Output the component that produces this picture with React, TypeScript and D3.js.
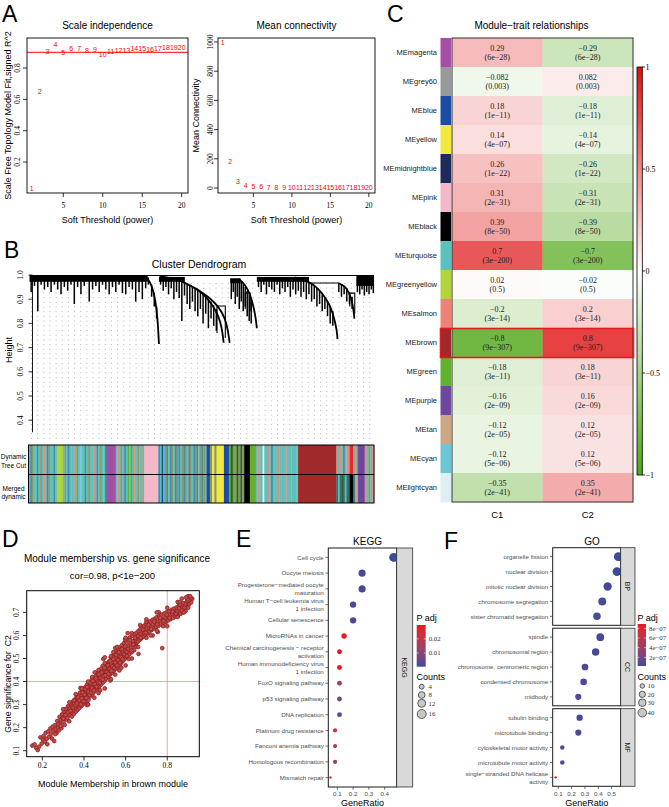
import React from "react";
import * as d3 from "d3";

const SANS = "'Liberation Sans', Arial, Helvetica, sans-serif";
const SERIF = "'Liberation Serif', 'Times New Roman', Times, serif";
const MINUS = "\u2212";
const mfmt = (s: string | number) => String(s).replace(/-/g, MINUS);

/* ================= Panel A data ================= */
const softPowers = [1, 2, 3, 4, 5, 6, 7, 8, 9, 10, 11, 12, 13, 14, 15, 16, 17, 18, 19, 20];
const scaleFreeFit = [0.034, 0.649, 0.904, 0.951, 0.898, 0.923, 0.926, 0.913, 0.917, 0.888, 0.902, 0.911, 0.911, 0.922, 0.922, 0.916, 0.924, 0.932, 0.932, 0.932];
const meanConnectivity = [993, 178, 41, 20, 9, 7, 5, 4, 3.5, 3, 2.6, 2.3, 2, 1.8, 1.6, 1.5, 1.4, 1.3, 1.2, 1.1];
const powerTicks = [5, 10, 15, 20];
const fitTicks = [0.2, 0.4, 0.6, 0.8];
const connTicks = [0, 200, 400, 600, 800, 1000];
const fitCutoff = 0.9;

/* ================= Panel B data ================= */
const heightTicks = [0.4, 0.5, 0.6, 0.7, 0.8, 0.9, 1.0];
const dendroBands: [number, number, number, number][] = [
  [0, 356, 0.996, 0.972],
  [390, 468, 0.992, 0.972],
  [605, 636, 0.986, 0.966],
  [685, 842, 0.992, 0.972],
  [985, 1038, 0.996, 0.955],
];
const dendroDrips: [number, number, number][] = [
  [5, 0.99, 0.93], [15, 0.99, 0.955], [25, 0.99, 0.85], [35, 0.99, 0.96], [45, 0.99, 0.94], [55, 0.99, 0.95], [65, 0.99, 0.93],
  [75, 0.99, 0.96], [85, 0.99, 0.94], [95, 0.99, 0.92], [105, 0.99, 0.95], [115, 0.99, 0.935], [125, 0.99, 0.96], [135, 0.99, 0.88],
  [145, 0.99, 0.95], [155, 0.99, 0.92], [165, 0.99, 0.955], [180, 0.99, 0.89], [190, 0.99, 0.94], [200, 0.99, 0.955], [210, 0.99, 0.93],
  [220, 0.99, 0.96], [230, 0.99, 0.94], [240, 0.99, 0.92], [250, 0.99, 0.95], [260, 0.99, 0.93], [270, 0.99, 0.96], [280, 0.99, 0.925],
  [290, 0.99, 0.92], [300, 0.99, 0.95], [310, 0.99, 0.94], [320, 0.99, 0.89], [330, 0.99, 0.93], [340, 0.99, 0.90], [350, 0.99, 0.945],
  [358, 0.99, 0.96], [368, 0.96, 0.91], [376, 0.925, 0.87], [383, 0.87, 0.82],
  [395, 0.99, 0.96], [403, 0.99, 0.935], [411, 0.99, 0.95], [419, 0.985, 0.92], [427, 0.985, 0.945], [435, 0.98, 0.90], [443, 0.98, 0.93],
  [451, 0.975, 0.905], [459, 0.97, 0.81], [467, 0.965, 0.915], [475, 0.96, 0.88], [483, 0.955, 0.86], [491, 0.95, 0.89], [499, 0.945, 0.85],
  [507, 0.94, 0.83], [515, 0.93, 0.86], [523, 0.92, 0.80], [531, 0.91, 0.84], [539, 0.90, 0.78], [547, 0.89, 0.82], [555, 0.875, 0.79], [563, 0.86, 0.77],
  [608, 0.985, 0.90], [614, 0.985, 0.93], [620, 0.985, 0.88], [626, 0.985, 0.91], [632, 0.98, 0.86], [638, 0.975, 0.89], [644, 0.965, 0.85],
  [650, 0.95, 0.87], [656, 0.935, 0.83], [662, 0.92, 0.81], [668, 0.90, 0.80],
  [690, 0.99, 0.95], [698, 0.99, 0.93], [706, 0.99, 0.96], [714, 0.99, 0.92], [722, 0.99, 0.95], [730, 0.99, 0.94], [738, 0.99, 0.93],
  [746, 0.99, 0.96], [754, 0.99, 0.92], [762, 0.99, 0.945], [770, 0.99, 0.93], [778, 0.99, 0.95], [786, 0.99, 0.91], [794, 0.99, 0.94],
  [802, 0.99, 0.92], [810, 0.99, 0.935], [818, 0.985, 0.91], [826, 0.98, 0.93], [834, 0.975, 0.90], [842, 0.97, 0.92], [850, 0.96, 0.89],
  [858, 0.955, 0.90], [866, 0.945, 0.87], [874, 0.935, 0.88], [882, 0.92, 0.85], [890, 0.905, 0.86], [898, 0.89, 0.83], [906, 0.87, 0.80], [914, 0.85, 0.79],
  [932, 0.965, 0.93], [940, 0.96, 0.91], [948, 0.955, 0.92], [956, 0.945, 0.89], [964, 0.93, 0.88], [972, 0.91, 0.86],
  [988, 0.99, 0.93], [995, 0.99, 0.92], [1002, 0.99, 0.94], [1009, 0.99, 0.915], [1016, 0.99, 0.93], [1023, 0.99, 0.92], [1030, 0.99, 0.94], [1036, 0.99, 0.925],
];
const dendroCurves: [number, number][][] = [
  [[352, 0.99], [362, 0.975], [372, 0.94], [380, 0.89], [385, 0.83], [388, 0.77], [390, 0.715]],
  [[392, 0.995], [440, 0.985], [480, 0.96], [520, 0.93], [550, 0.88], [570, 0.83], [580, 0.78], [585, 0.72]],
  [[500, 0.945], [540, 0.91], [570, 0.87], [590, 0.82], [598, 0.77], [603, 0.72]],
  [[630, 0.985], [650, 0.96], [665, 0.92], [675, 0.87], [682, 0.82], [685, 0.78]],
  [[800, 0.99], [840, 0.975], [870, 0.945], [895, 0.9], [910, 0.86], [920, 0.81], [926, 0.77], [928, 0.735]],
  [[930, 0.967], [950, 0.955], [962, 0.93], [970, 0.90], [976, 0.86], [979, 0.82]],
];
const dendroLinks: [number, number][][] = [
  [[0, 0.998], [1038, 0.998]],
  [[565, 0.76], [565, 0.872], [590, 0.872], [590, 0.74]],
  [[650, 0.86], [650, 0.925], [665, 0.925], [665, 0.85]],
  [[840, 0.99], [840, 0.967], [930, 0.967]],
  [[965, 0.87], [965, 0.925], [980, 0.925], [980, 0.84]],
];
const moduleCodeColors: Record<string, string> = {
  T: "#5CC1BB", S: "#4A8AAE", O: "#8C9A62", L: "#E58A7F", Y: "#B2D33B", M: "#A64DA5", P: "#F5B8C9",
  U: "#1D4CA5", W: "#F2E93F", G: "#62B22F", K: "#000000", D: "#35563A", R: "#9E2A2B", E: "#EE2424",
  V: "#6E47A0", C: "#7CCBD8", H: "#E2F3F3", N: "#2F6E6A",
};
const dynamicTreeCut: [number, number, string][] = [
  [0, 85, "TSOTTSTOTLTSOTTST"], [85, 103, "Y"], [103, 235, "TOTSTTLTOTCTTSTOTTLTSTOTTS"], [235, 262, "M"],
  [262, 348, "TLTOTSTGTGTLTOTLT"], [348, 390, "P"], [390, 535, "STUTOSTSOTSOSTOSOTSOTSOSTOSOT"], [535, 545, "U"],
  [545, 565, "OWO"], [565, 587, "W"], [587, 602, "U"], [602, 648, "GDGODGDO"], [648, 665, "K"], [665, 683, "G"],
  [683, 810, "TLTTHTTLTSTTTLTTTTLTTTTTT"], [810, 925, "R"], [925, 965, "LTLTSLTL"], [965, 975, "E"], [975, 990, "TLO"],
  [990, 1010, "V"], [1010, 1038, "LTOTL"],
];
const mergedDynamic: [number, number, string][] = [
  [0, 85, "TSOTTSTOTLTSOTTST"], [85, 103, "Y"], [103, 235, "TOTSTTLTOTCTTSTOTTLTSTOTTS"], [235, 262, "M"],
  [262, 348, "TLTOTSTGTGTLTOTLT"], [348, 390, "P"], [390, 535, "STUTOSTSOTSOSTOSOTSOTSOSTOSOT"], [535, 545, "U"],
  [545, 565, "OWO"], [565, 587, "W"], [587, 602, "U"], [602, 648, "GDGODGDO"], [648, 665, "K"], [665, 683, "G"],
  [683, 810, "TLTTHTTLTSTTTLTTTTLTTTTTT"], [810, 925, "R"], [925, 965, "NTNDNTNN"], [965, 975, "K"], [975, 990, "NTL"],
  [990, 1010, "V"], [1010, 1038, "LTOTL"],
];

/* ================= Panel C data ================= */
const modules = ["MEmagenta", "MEgrey60", "MEblue", "MEyellow", "MEmidnightblue", "MEpink", "MEblack", "MEturquoise",
  "MEgreenyellow", "MEsalmon", "MEbrown", "MEgreen", "MEpurple", "MEtan", "MEcyan", "MElightcyan"];
const moduleColors = ["#A64DA5", "#999999", "#1D4CA5", "#F2E93F", "#1E2A5A", "#F5B8C9", "#000000", "#5CC1BB",
  "#B2D33B", "#EF8277", "#9E2A2B", "#62B22F", "#6E47A0", "#CBA783", "#6CC6D3", "#DDEFF2"];
const traits = ["C1", "C2"];
const corC1 = [0.29, -0.082, 0.18, 0.14, 0.26, 0.31, 0.39, 0.7, 0.02, -0.2, -0.8, -0.18, -0.16, -0.12, -0.12, -0.35];
const corC2 = [-0.29, 0.082, -0.18, -0.14, -0.26, -0.31, -0.39, -0.7, -0.02, 0.2, 0.8, 0.18, 0.16, 0.12, 0.12, 0.35];
const corP = ["6e-28", "0.003", "1e-11", "4e-07", "1e-22", "2e-31", "8e-50", "3e-200", "0.5", "3e-14", "9e-307", "3e-11", "2e-09", "2e-05", "5e-06", "2e-41"];
const corTicks = [1, 0.5, 0, -0.5, -1];
const highlightModule = "MEbrown";

/* ================= Panel D data ================= */
const mmTicks = [0.2, 0.4, 0.6, 0.8];
const gsTicks = [0.1, 0.2, 0.3, 0.4, 0.5, 0.6, 0.7];
const mmGsPoints: [number, number][] = [
  [0.152, 0.122], [0.163, 0.127], [0.171, 0.112], [0.178, 0.103], [0.185, 0.118], [0.191, 0.158], [0.197, 0.131], [0.203, 0.148],
  [0.206, 0.163], [0.212, 0.139], [0.216, 0.177], [0.221, 0.152], [0.224, 0.128], [0.229, 0.184], [0.233, 0.161], [0.238, 0.196],
  [0.241, 0.172], [0.246, 0.153], [0.249, 0.204], [0.253, 0.187], [0.257, 0.142], [0.261, 0.211], [0.264, 0.193], [0.268, 0.176],
  [0.272, 0.229], [0.275, 0.205], [0.279, 0.188], [0.283, 0.247], [0.286, 0.219], [0.289, 0.233], [0.292, 0.198], [0.295, 0.258],
  [0.298, 0.241], [0.301, 0.226], [0.304, 0.268], [0.307, 0.212], [0.309, 0.249], [0.313, 0.281], [0.316, 0.236], [0.318, 0.262],
  [0.321, 0.244], [0.324, 0.293], [0.326, 0.271], [0.329, 0.228], [0.331, 0.257],
  [0.334, 0.284], [0.337, 0.301], [0.339, 0.266], [0.342, 0.248], [0.344, 0.292], [0.346, 0.313], [0.349, 0.277], [0.351, 0.259],
  [0.353, 0.303], [0.356, 0.322], [0.358, 0.287], [0.361, 0.269], [0.363, 0.311], [0.365, 0.334], [0.368, 0.296], [0.37, 0.278],
  [0.372, 0.319], [0.374, 0.341], [0.377, 0.305], [0.379, 0.286], [0.381, 0.352], [0.383, 0.327], [0.386, 0.312], [0.388, 0.294],
  [0.39, 0.338], [0.392, 0.361], [0.395, 0.321], [0.397, 0.303], [0.399, 0.346], [0.401, 0.372], [0.404, 0.329], [0.406, 0.311],
  [0.408, 0.355], [0.41, 0.338], [0.413, 0.384], [0.415, 0.298], [0.417, 0.363], [0.419, 0.347], [0.422, 0.321], [0.424, 0.372],
  [0.426, 0.395], [0.428, 0.356], [0.431, 0.336], [0.433, 0.381], [0.435, 0.364], [0.437, 0.407], [0.44, 0.344], [0.442, 0.389],
  [0.444, 0.372], [0.446, 0.353], [0.449, 0.416], [0.451, 0.398], [0.453, 0.381], [0.455, 0.362], [0.458, 0.425], [0.46, 0.407],
  [0.462, 0.389], [0.464, 0.371], [0.466, 0.436], [0.469, 0.415], [0.471, 0.397], [0.473, 0.379], [0.475, 0.447], [0.477, 0.424],
  [0.48, 0.405], [0.482, 0.387], [0.484, 0.456], [0.486, 0.433], [0.488, 0.414], [0.491, 0.396], [0.493, 0.498], [0.495, 0.442],
  [0.497, 0.423], [0.5, 0.404], [0.502, 0.468], [0.504, 0.451], [0.506, 0.432], [0.508, 0.413], [0.511, 0.478], [0.513, 0.459],
  [0.515, 0.441], [0.517, 0.421], [0.52, 0.487], [0.522, 0.468], [0.524, 0.449], [0.526, 0.43], [0.529, 0.504], [0.531, 0.477],
  [0.533, 0.458], [0.535, 0.439], [0.538, 0.512], [0.54, 0.486], [0.542, 0.467], [0.544, 0.447], [0.547, 0.521], [0.549, 0.494],
  [0.551, 0.476], [0.553, 0.456], [0.556, 0.533], [0.558, 0.503], [0.56, 0.485], [0.562, 0.464], [0.565, 0.541], [0.567, 0.512],
  [0.569, 0.493], [0.571, 0.473], [0.574, 0.549], [0.576, 0.521], [0.578, 0.502], [0.58, 0.482], [0.583, 0.558], [0.585, 0.53],
  [0.587, 0.511], [0.589, 0.491], [0.592, 0.566], [0.594, 0.539], [0.596, 0.52], [0.598, 0.5], [0.601, 0.574], [0.603, 0.548],
  [0.605, 0.529], [0.607, 0.509], [0.61, 0.583], [0.612, 0.557], [0.615, 0.538], [0.618, 0.518], [0.62, 0.591], [0.623, 0.566],
  [0.626, 0.547], [0.629, 0.527], [0.632, 0.598], [0.635, 0.575], [0.638, 0.556], [0.641, 0.536], [0.644, 0.606], [0.647, 0.584], [0.65, 0.565],
  [0.383, 0.372], [0.418, 0.302], [0.452, 0.44], [0.478, 0.362], [0.49, 0.468], [0.527, 0.405], [0.541, 0.527], [0.57, 0.448],
  [0.598, 0.583], [0.616, 0.498], [0.641, 0.563], [0.662, 0.52], [0.5, 0.505], [0.55, 0.545], [0.61, 0.61], [0.56, 0.52],
  [0.653, 0.612], [0.656, 0.592], [0.659, 0.573], [0.662, 0.62], [0.665, 0.6], [0.668, 0.581], [0.671, 0.628], [0.674, 0.607],
  [0.677, 0.588], [0.68, 0.635], [0.683, 0.614], [0.686, 0.596], [0.689, 0.642], [0.692, 0.621], [0.695, 0.603], [0.698, 0.649],
  [0.701, 0.628], [0.705, 0.61], [0.708, 0.655], [0.711, 0.635], [0.715, 0.617], [0.718, 0.661], [0.722, 0.641], [0.725, 0.624],
  [0.729, 0.667], [0.732, 0.648], [0.736, 0.63], [0.74, 0.673], [0.743, 0.654], [0.747, 0.636], [0.75, 0.679], [0.754, 0.66],
  [0.758, 0.642], [0.761, 0.684], [0.765, 0.666], [0.769, 0.648], [0.772, 0.69], [0.776, 0.545], [0.779, 0.672], [0.783, 0.653],
  [0.786, 0.695], [0.79, 0.677], [0.794, 0.659], [0.797, 0.7], [0.801, 0.682], [0.805, 0.665], [0.808, 0.705], [0.812, 0.688],
  [0.816, 0.671], [0.82, 0.711], [0.824, 0.693], [0.828, 0.676], [0.832, 0.716], [0.836, 0.699], [0.84, 0.682], [0.844, 0.721],
  [0.848, 0.704], [0.852, 0.688], [0.856, 0.727], [0.86, 0.71], [0.864, 0.694], [0.868, 0.733], [0.872, 0.716], [0.876, 0.7],
  [0.88, 0.738], [0.884, 0.722], [0.888, 0.706], [0.892, 0.744], [0.896, 0.728], [0.9, 0.749], [0.905, 0.736], [0.91, 0.754],
  [0.915, 0.743], [0.92, 0.759], [0.69, 0.61], [0.73, 0.6], [0.76, 0.7], [0.7, 0.66], [0.755, 0.615], [0.78, 0.64],
  [0.262, 0.172], [0.277, 0.214], [0.288, 0.207], [0.301, 0.239], [0.312, 0.255], [0.323, 0.266], [0.336, 0.273], [0.347, 0.287],
  [0.352, 0.318], [0.359, 0.296], [0.367, 0.305], [0.371, 0.332], [0.378, 0.318], [0.385, 0.301], [0.389, 0.327], [0.394, 0.352],
  [0.398, 0.314], [0.403, 0.343], [0.407, 0.367], [0.412, 0.329], [0.416, 0.376], [0.421, 0.356], [0.425, 0.341], [0.43, 0.393],
  [0.434, 0.351], [0.439, 0.372], [0.443, 0.403], [0.448, 0.362], [0.452, 0.389], [0.457, 0.414], [0.461, 0.378], [0.467, 0.398],
  [0.472, 0.431], [0.476, 0.393], [0.481, 0.416], [0.485, 0.44], [0.49, 0.409], [0.494, 0.424], [0.499, 0.459], [0.503, 0.427],
  [0.509, 0.442], [0.514, 0.471], [0.518, 0.433], [0.523, 0.455], [0.527, 0.489], [0.532, 0.447], [0.536, 0.466], [0.541, 0.497],
  [0.545, 0.459], [0.55, 0.482], [0.554, 0.515], [0.559, 0.47], [0.563, 0.494], [0.568, 0.527], [0.573, 0.482], [0.577, 0.507],
  [0.582, 0.541], [0.586, 0.497], [0.593, 0.518], [0.599, 0.553], [0.606, 0.511], [0.613, 0.542], [0.621, 0.579], [0.628, 0.535],
  [0.636, 0.561], [0.645, 0.59], [0.652, 0.551], [0.66, 0.598], [0.672, 0.59], [0.685, 0.625], [0.697, 0.612], [0.71, 0.645],
  [0.723, 0.628], [0.738, 0.66], [0.752, 0.648], [0.767, 0.676], [0.782, 0.663], [0.797, 0.69], [0.811, 0.676], [0.826, 0.703],
  [0.842, 0.693], [0.857, 0.718], [0.871, 0.708], [0.886, 0.735], [0.9, 0.724], [0.913, 0.762], [0.897, 0.757], [0.874, 0.74], [0.862, 0.733],
  [0.42, 0.30], [0.45, 0.33], [0.47, 0.35], [0.5, 0.37], [0.53, 0.41], [0.55, 0.43], [0.58, 0.46], [0.6, 0.47], [0.63, 0.50],
  [0.66, 0.55], [0.7, 0.59], [0.72, 0.6], [0.75, 0.62], [0.8, 0.64], [0.85, 0.68], [0.88, 0.7],
  [0.3, 0.28], [0.33, 0.31], [0.36, 0.345], [0.39, 0.37], [0.42, 0.40], [0.44, 0.42], [0.47, 0.45], [0.5, 0.48], [0.53, 0.51],
  [0.56, 0.55], [0.6, 0.59], [0.63, 0.61], [0.67, 0.645], [0.7, 0.67], [0.75, 0.7], [0.8, 0.72], [0.85, 0.745], [0.9, 0.77],
  [0.87, 0.76], [0.9, 0.72], [0.89, 0.765], [0.91, 0.77], [0.86, 0.745],
];
const mmThreshold = 0.8;
const gsThreshold = 0.4;

/* ================= Panel E data ================= */
const keggTerms = [
  "Cell cycle", "Oocyte meiosis", "Progesterone\u2212mediated oocyte\nmaturation", "Human T\u2212cell leukemia virus\n1 infection",
  "Cellular senescence", "MicroRNAs in cancer", "Chemical carcinogenesis \u2212 receptor\nactivation", "Human immunodeficiency virus\n1 infection",
  "FoxO signaling pathway", "p53 signaling pathway", "DNA replication", "Platinum drug resistance", "Fanconi anemia pathway",
  "Homologous recombination", "Mismatch repair",
];
const keggGeneRatio = [0.457, 0.257, 0.257, 0.2, 0.2, 0.143, 0.114, 0.114, 0.114, 0.114, 0.114, 0.086, 0.086, 0.086, 0.057];
const keggCounts = [16, 9, 9, 7, 7, 5, 4, 4, 4, 4, 4, 3, 3, 3, 2];
const keggPadj = [0.0004, 0.0009, 0.001, 0.0016, 0.0018, 0.0285, 0.0297, 0.0294, 0.016, 0.007, 0.0035, 0.021, 0.017, 0.011, 0.023];
const keggRatioTicks = [0.1, 0.2, 0.3, 0.4];
const keggPadjTicks = [0.02, 0.01];
const keggCountTicks = [4, 8, 12, 16];

/* ================= Panel F data ================= */
const goTerms = [
  "organelle fission", "nuclear division", "mitotic nuclear division", "chromosome segregation", "sister chromatid segregation",
  "spindle", "chromosomal region", "chromosome, centromeric region", "condensed chromosome", "midbody",
  "tubulin binding", "microtubule binding", "cytoskeletal motor activity", "microtubule motor activity", "single\u2212stranded DNA helicase\nactivity",
];
const goOntology = ["BP", "BP", "BP", "BP", "BP", "CC", "CC", "CC", "CC", "CC", "MF", "MF", "MF", "MF", "MF"];
const goFacets = ["BP", "CC", "MF"];
const goGeneRatio = [0.55, 0.54, 0.47, 0.43, 0.39, 0.415, 0.38, 0.30, 0.29, 0.25, 0.26, 0.25, 0.13, 0.13, 0.08];
const goCounts = [43, 42, 37, 34, 30, 32, 29, 23, 22, 19, 20, 19, 10, 10, 6];
const goPadj = [3e-8, 2e-8, 4e-8, 5e-8, 6e-8, 4e-8, 5e-8, 6e-8, 7e-8, 8e-8, 5e-8, 6e-8, 9e-8, 9e-8, 8.9e-7];
const goRatioTicks = [0.1, 0.2, 0.3, 0.4, 0.5];
const goPadjTicks = [8e-7, 6e-7, 4e-7, 2e-7];
const goPadjLabels = ["8e-07", "6e-07", "4e-07", "2e-07"];
const goCountTicks = [10, 20, 30, 40];

const LOW_BLUE = "#3B4A9D";
const HIGH_RED = "#E8171E";

/* ================= helpers ================= */
function VText(props: { x: number; y: number; size: number; family?: string; anchor?: string; fill?: string; children: any }) {
  const { x, y, size, family = SANS, anchor = "middle", fill = "#000", children } = props;
  return (
    <text transform={`translate(${x},${y}) rotate(-90)`} textAnchor={anchor as any} fontSize={size} fontFamily={family} fill={fill}>
      {children}
    </text>
  );
}

function Letter({ x, y, t }: { x: number; y: number; t: string }) {
  return <text x={x} y={y} fontSize={23} fontFamily={SANS}>{t}</text>;
}

/* ================= Panel A ================= */
function PanelA() {
  const x1 = d3.scaleLinear().domain([0.4, 20.8]).range([27, 188]);
  const y1 = d3.scaleLinear().domain([0, 0.99]).range([193.4, 38.2]);
  const x2 = d3.scaleLinear().domain([0.4, 20.8]).range([218, 375]);
  const y2 = d3.scaleLinear().domain([-34, 1027]).range([193, 38]);
  return (
    <g>
      <Letter x={2} y={21.5} t="A" />
      <text x={107.5} y={28.5} textAnchor="middle" fontSize={10} fontFamily={SANS}>Scale independence</text>
      <line x1={27} x2={188} y1={y1(fitCutoff)} y2={y1(fitCutoff)} stroke="red" strokeWidth={1} />
      {softPowers.map((p, i) => (
        <text key={p} x={x1(p)} y={y1(scaleFreeFit[i])} dy="0.35em" textAnchor="middle" fontSize={7} fontFamily={SANS} fill="red">{p}</text>
      ))}
      <rect x={27} y={38} width={161} height={155} fill="none" stroke="#000" strokeWidth={0.9} />
      {powerTicks.map((t) => (
        <g key={t}>
          <line x1={x1(t)} x2={x1(t)} y1={193} y2={197} stroke="#000" strokeWidth={0.8} />
          <text x={x1(t)} y={208} textAnchor="middle" fontSize={7.5} fontFamily={SERIF}>{t}</text>
        </g>
      ))}
      {fitTicks.map((t) => (
        <g key={t}>
          <line x1={27} x2={23} y1={y1(t)} y2={y1(t)} stroke="#000" strokeWidth={0.8} />
          <VText x={20} y={y1(t)} size={7.5} family={SERIF}>{t}</VText>
        </g>
      ))}
      <text x={107.5} y={223} textAnchor="middle" fontSize={9} fontFamily={SANS}>Soft Threshold (power)</text>
      <VText x={10.5} y={115.5} size={9}>Scale Free Topology Model Fit,signed R^2</VText>

      <text x={296.5} y={28.5} textAnchor="middle" fontSize={10} fontFamily={SANS}>Mean connectivity</text>
      {softPowers.map((p, i) => (
        <text key={p} x={x2(p)} y={y2(meanConnectivity[i])} dy="0.35em" textAnchor="middle" fontSize={7} fontFamily={SANS} fill="red">{p}</text>
      ))}
      <rect x={218} y={38} width={157} height={155} fill="none" stroke="#000" strokeWidth={0.9} />
      {powerTicks.map((t) => (
        <g key={t}>
          <line x1={x2(t)} x2={x2(t)} y1={193} y2={197} stroke="#000" strokeWidth={0.8} />
          <text x={x2(t)} y={208} textAnchor="middle" fontSize={7.5} fontFamily={SERIF}>{t}</text>
        </g>
      ))}
      {connTicks.map((t) => (
        <g key={t}>
          <line x1={218} x2={214} y1={y2(t)} y2={y2(t)} stroke="#000" strokeWidth={0.8} />
          <VText x={212.5} y={y2(t)} size={7.5} family={SERIF}>{t}</VText>
        </g>
      ))}
      <text x={296.5} y={223} textAnchor="middle" fontSize={9} fontFamily={SANS}>Soft Threshold (power)</text>
      <VText x={198.5} y={115.5} size={9}>Mean Connectivity</VText>
    </g>
  );
}

/* ================= Panel B ================= */
function ColorRow({ segs, y0, y1, xs }: { segs: [number, number, string][]; y0: number; y1: number; xs: d3.ScaleLinear<number, number> }) {
  const rects: any[] = [];
  segs.forEach(([u0, u1, pat], si) => {
    const w = (u1 - u0) / pat.length;
    for (let i = 0; i < pat.length; i++) {
      const a = xs(u0 + i * w);
      const b = xs(u0 + (i + 1) * w);
      rects.push(<rect key={si + "-" + i} x={a} y={y0} width={b - a + 0.3} height={y1 - y0} fill={moduleCodeColors[pat[i]]} />);
    }
  });
  return <g>{rects}</g>;
}

function PanelB() {
  const xs = d3.scaleLinear().domain([0, 1038]).range([29.5, 374]);
  const barX = d3.scaleLinear().domain([0, 1038]).range([28.5, 374]);
  const ys = d3.scaleLinear().domain([0.35, 1.0]).range([432.3, 275]);
  const curve = d3.line<[number, number]>().x((d) => xs(d[0])).y((d) => ys(d[1])).curve(d3.curveBasis);
  const poly = d3.line<[number, number]>().x((d) => xs(d[0])).y((d) => ys(d[1]));
  const guides = d3.range(31.5, 373, 6.15);
  return (
    <g>
      <Letter x={4} y={258} t="B" />
      <text x={199} y={268} textAnchor="middle" fontSize={10.5} fontFamily={SANS}>Cluster Dendrogram</text>
      {guides.map((gx, i) => (
        <line key={i} x1={gx} x2={gx} y1={283} y2={443} stroke="#9a9a9a" strokeWidth={0.8} strokeDasharray="0.9 3.8" />
      ))}
      {dendroBands.map(([u0, u1, t, b], i) => (
        <rect key={i} x={xs(u0)} y={ys(t)} width={xs(u1) - xs(u0)} height={ys(b) - ys(t)} fill="#000" />
      ))}
      {dendroDrips.map(([u, t, b], i) => (
        <line key={i} x1={xs(u)} x2={xs(u)} y1={ys(t)} y2={ys(b)} stroke="#000" strokeWidth={1.5} />
      ))}
      {dendroCurves.map((c, i) => (
        <path key={i} d={curve(c) || ""} fill="none" stroke="#000" strokeWidth={1.8} />
      ))}
      {dendroLinks.map((c, i) => (
        <path key={i} d={poly(c) || ""} fill="none" stroke="#000" strokeWidth={1.1} />
      ))}
      <line x1={32.5} x2={32.5} y1={ys(1.0)} y2={432.3} stroke="#000" strokeWidth={0.9} />
      {heightTicks.map((t) => (
        <g key={t}>
          <line x1={32.5} x2={28.5} y1={ys(t)} y2={ys(t)} stroke="#000" strokeWidth={0.8} />
          <VText x={23} y={ys(t)} size={7.5} family={SERIF}>{t.toFixed(1)}</VText>
        </g>
      ))}
      <VText x={12} y={350} size={9}>Height</VText>

      <ColorRow segs={dynamicTreeCut} y0={445} y1={474.5} xs={barX} />
      <ColorRow segs={mergedDynamic} y0={474.5} y1={503} xs={barX} />
      <rect x={28.5} y={445} width={345.5} height={58} fill="none" stroke="#000" strokeWidth={1} />
      <line x1={28.5} x2={374} y1={474.5} y2={474.5} stroke="#000" strokeWidth={1.2} />
      <g fontSize={6.5} fontFamily={SANS} textAnchor="middle">
        <text x={13.5} y={459}>Dynamic</text>
        <text x={13.5} y={467.5}>Tree Cut</text>
        <text x={13.5} y={490.5}>Merged</text>
        <text x={13.5} y={499}>dynamic</text>
      </g>
    </g>
  );
}

/* ================= Panel C ================= */
function PanelC() {
  const top = 38;
  const band = d3.scaleBand<string>().domain(modules).range([top, 502]);
  const colX = d3.scaleBand<string>().domain(traits).range([452, 633]);
  const color = d3.scaleLinear<string>().domain([-1, 0, 1]).range(["#4EA614", "#FFFFFF", "#E01010"]);
  const cb = d3.scaleLinear().domain([-1, 1]).range([475, 67]);
  const rowH = band.bandwidth();
  const hi = band(highlightModule) as number;
  return (
    <g>
      <Letter x={387} y={21.5} t="C" />
      <defs>
        <linearGradient id="corGrad" x1="0" y1="1" x2="0" y2="0">
          <stop offset="0" stopColor={color(-1)} />
          <stop offset="0.5" stopColor={color(0)} />
          <stop offset="1" stopColor={color(1)} />
        </linearGradient>
      </defs>
      <text x={531.5} y={28.5} textAnchor="middle" fontSize={10} fontFamily={SANS}>{"Module\u2212trait relationships"}</text>
      {modules.map((m, i) => {
        const y = band(m) as number;
        const vals = [corC1[i], corC2[i]];
        return (
          <g key={m}>
            <rect x={440.5} y={y} width={10.5} height={rowH + 0.3} fill={moduleColors[i]} />
            <text x={437} y={y + rowH / 2} dy="0.35em" textAnchor="end" fontSize={7.5} fontFamily={SANS} fill="#222">{m}</text>
            {traits.map((t, j) => (
              <g key={t}>
                <rect x={colX(t) as number} y={y} width={colX.bandwidth() + 0.3} height={rowH + 0.3} fill={color(vals[j])} />
                <text x={(colX(t) as number) + colX.bandwidth() / 2} y={y + rowH / 2 - 1.5} textAnchor="middle" fontSize={8} fontFamily={SERIF} fill="#222">{mfmt(vals[j])}</text>
                <text x={(colX(t) as number) + colX.bandwidth() / 2} y={y + rowH / 2 + 7.5} textAnchor="middle" fontSize={8} fontFamily={SERIF} fill="#222">{"(" + mfmt(corP[i]) + ")"}</text>
              </g>
            ))}
          </g>
        );
      })}
      <rect x={452} y={top} width={181} height={464} fill="none" stroke="#333" strokeWidth={1} />
      <rect x={440.5} y={hi + 0.5} width={193} height={rowH} fill="none" stroke="#E41A1C" strokeWidth={1.6} />
      {traits.map((t) => (
        <text key={t} x={(colX(t) as number) + colX.bandwidth() / 2} y={517.5} textAnchor="middle" fontSize={9.5} fontFamily={SANS}>{t}</text>
      ))}
      <rect x={637} y={67} width={5.3} height={408} fill="url(#corGrad)" stroke="#000" strokeWidth={0.8} />
      {corTicks.map((t) => (
        <g key={t}>
          <line x1={642.3} x2={645} y1={cb(t)} y2={cb(t)} stroke="#000" strokeWidth={0.8} />
          <text x={645.5} y={cb(t)} dy="0.35em" fontSize={8} fontFamily={SERIF}>{mfmt(t)}</text>
        </g>
      ))}
    </g>
  );
}

/* ================= Panel D ================= */
function PanelD() {
  const x = d3.scaleLinear().domain([0.125, 0.954]).range([26.7, 199.3]);
  const y = d3.scaleLinear().domain([0.074, 0.794]).range([756.7, 590.7]);
  return (
    <g>
      <Letter x={2} y={547} t="D" />
      <text x={117} y={562} textAnchor="middle" fontSize={10} fontFamily={SANS}>Module membership vs. gene significance</text>
      <text x={112.5} y={579} textAnchor="middle" fontSize={9.5} fontFamily={SANS}>{"cor=0.98, p<1e\u2212200"}</text>
      <defs>
        <clipPath id="dClip"><rect x={26.7} y={590.7} width={172.6} height={166} /></clipPath>
      </defs>
      <g clipPath="url(#dClip)">
        <line x1={x(mmThreshold)} x2={x(mmThreshold)} y1={590.7} y2={756.7} stroke="#F08C8C" strokeWidth={0.8} />
        <line x1={26.7} x2={199.3} y1={y(gsThreshold)} y2={y(gsThreshold)} stroke="#F08C8C" strokeWidth={0.8} />
        {mmGsPoints.map(([a, b], i) => (
          <circle key={i} cx={x(a)} cy={y(b)} r={1.9} fill="#B85050" stroke="#9A1C1C" strokeWidth={0.8} />
        ))}
      </g>
      <rect x={26.7} y={590.7} width={172.6} height={166} fill="none" stroke="#000" strokeWidth={1} />
      {mmTicks.map((t) => (
        <g key={t}>
          <line x1={x(t)} x2={x(t)} y1={756.7} y2={760.5} stroke="#000" strokeWidth={0.8} />
          <text x={x(t)} y={768} textAnchor="middle" fontSize={7.5} fontFamily={SERIF}>{t}</text>
        </g>
      ))}
      {gsTicks.map((t) => (
        <g key={t}>
          <line x1={26.7} x2={23} y1={y(t)} y2={y(t)} stroke="#000" strokeWidth={0.8} />
          <VText x={19} y={y(t)} size={7.5} family={SERIF}>{t}</VText>
        </g>
      ))}
      <text x={113} y={787} textAnchor="middle" fontSize={9} fontFamily={SANS}>Module Membership in brown module</text>
      <VText x={10.5} y={684} size={8.7}>{"Gene significance for\u00A0 C2"}</VText>
    </g>
  );
}

/* ================= dot-plot helpers ================= */
function TermLabel({ x, y, term }: { x: number; y: number; term: string }) {
  const lines = term.split("\n");
  return (
    <text x={x} y={y} textAnchor="end" fontSize={6.2} fontFamily={SANS} fill="#4D4D4D">
      {lines.map((l, i) => (
        <tspan key={i} x={x} y={y + (lines.length === 1 ? 0 : i === 0 ? -4 : 4)} dy="0.35em">{l}</tspan>
      ))}
    </text>
  );
}

function GradientBar({ id, x, y, w, h, colorFn, domain, ticks, labels }: any) {
  const stops = d3.range(0, 1.0001, 0.1);
  const sc = d3.scaleLinear().domain(domain).range([y + h, y]);
  return (
    <g>
      <defs>
        <linearGradient id={id} x1="0" y1="1" x2="0" y2="0">
          {stops.map((s: number) => (
            <stop key={s} offset={s} stopColor={colorFn(domain[0] + s * (domain[1] - domain[0]))} />
          ))}
        </linearGradient>
      </defs>
      <rect x={x} y={y} width={w} height={h} fill={`url(#${id})`} />
      {ticks.map((t: number, i: number) => (
        <g key={i}>
          <line x1={x} x2={x + w * 0.2} y1={sc(t)} y2={sc(t)} stroke="#fff" strokeWidth={0.6} />
          <line x1={x + w * 0.8} x2={x + w} y1={sc(t)} y2={sc(t)} stroke="#fff" strokeWidth={0.6} />
          <text x={x + w + 3} y={sc(t)} dy="0.35em" fontSize={6.8} fontFamily={SERIF} fill="#333">{labels[i]}</text>
        </g>
      ))}
    </g>
  );
}

/* ================= Panel E ================= */
function PanelE() {
  const left = 328.3, right = 396.7, top = 548, bottom = 787, stripR = 412.7;
  const x = d3.scaleLinear().domain([0.043, 0.476]).range([left, right]);
  const y = d3.scalePoint<string>().domain(keggTerms).range([top, bottom]).padding(0.6);
  const cMin = d3.min(keggCounts) as number, cMax = d3.max(keggCounts) as number;
  const r = (c: number) => 1.2 + 3.3 * Math.sqrt((c - cMin) / (cMax - cMin));
  const pDomain = d3.extent(keggPadj) as [number, number];
  const col = d3.scaleLinear<string>().domain(pDomain).range([LOW_BLUE, HIGH_RED]).interpolate(d3.interpolateLab);
  const countY = [686.7, 695, 703.3, 714];
  return (
    <g>
      <Letter x={236} y={547} t="E" />
      <text x={367.5} y={545} textAnchor="middle" fontSize={10} fontFamily={SANS}>KEGG</text>
      <defs>
        <clipPath id="eClip"><rect x={left} y={top} width={right - left} height={bottom - top} /></clipPath>
      </defs>
      <rect x={left} y={top} width={right - left} height={bottom - top} fill="#fff" />
      <g clipPath="url(#eClip)">
        {keggTerms.map((t, i) => (
          <circle key={t} cx={x(keggGeneRatio[i])} cy={y(t) as number} r={r(keggCounts[i])} fill={col(keggPadj[i])} />
        ))}
      </g>
      <rect x={left} y={top} width={right - left} height={bottom - top} fill="none" stroke="#1A1A1A" strokeWidth={1} />
      <rect x={right} y={top} width={stripR - right} height={bottom - top} fill="#D9D9D9" stroke="#333" strokeWidth={0.8} />
      <text transform={`translate(${(right + stripR) / 2},${(top + bottom) / 2}) rotate(90)`} textAnchor="middle" dy="0.35em" fontSize={7} fontFamily={SANS} fill="#1A1A1A">KEGG</text>
      {keggTerms.map((t) => (
        <g key={t}>
          <line x1={left - 2.8} x2={left} y1={y(t) as number} y2={y(t) as number} stroke="#333" strokeWidth={0.7} />
          <TermLabel x={left - 4.5} y={y(t) as number} term={t} />
        </g>
      ))}
      {keggRatioTicks.map((t) => (
        <g key={t}>
          <line x1={x(t)} x2={x(t)} y1={bottom} y2={bottom + 2.8} stroke="#333" strokeWidth={0.7} />
          <text x={x(t)} y={796} textAnchor="middle" fontSize={6.2} fontFamily={SANS} fill="#4D4D4D">{t}</text>
        </g>
      ))}
      <text x={362.5} y={806} textAnchor="middle" fontSize={9} fontFamily={SANS}>GeneRatio</text>
      <text x={416.5} y={620.5} fontSize={9} fontFamily={SANS}>P adj</text>
      <GradientBar id="keggGrad" x={416.7} y={625} w={9} h={41.7} colorFn={col} domain={pDomain} ticks={keggPadjTicks} labels={keggPadjTicks.map(String)} />
      <text x={416.5} y={680} fontSize={9} fontFamily={SANS}>Counts</text>
      {keggCountTicks.map((c, i) => (
        <g key={c}>
          <circle cx={421.7} cy={countY[i]} r={r(c)} fill="#C8C8C8" stroke="#222" strokeWidth={0.7} />
          <text x={428.5} y={countY[i]} dy="0.35em" fontSize={6.8} fontFamily={SERIF} fill="#333">{c}</text>
        </g>
      ))}
    </g>
  );
}

/* ================= Panel F ================= */
function PanelF() {
  const left = 552.7, right = 620.7, stripR = 635;
  const facetTop = d3.scaleBand<string>().domain(goFacets).range([547.7, 789.2]);
  const facetH = 77.6;
  const x = d3.scaleLinear().domain([0.058, 0.568]).range([left, right]);
  const cMin = d3.min(goCounts) as number, cMax = d3.max(goCounts) as number;
  const r = (c: number) => 1.2 + 3.2 * Math.sqrt(Math.max(0, c - cMin) / (cMax - cMin));
  const pDomain = d3.extent(goPadj) as [number, number];
  const col = d3.scaleLinear<string>().domain(pDomain).range([LOW_BLUE, HIGH_RED]).interpolate(d3.interpolateLab);
  const countY = [686, 694.3, 702.7, 712.7];
  const bottom = (facetTop("MF") as number) + facetH;
  return (
    <g>
      <Letter x={444} y={549} t="F" />
      <text x={592} y={545} textAnchor="middle" fontSize={10} fontFamily={SANS}>GO</text>
      {goFacets.map((f) => {
        const ft = facetTop(f) as number;
        const terms = goTerms.filter((_, i) => goOntology[i] === f);
        const y = d3.scalePoint<string>().domain(terms).range([ft, ft + facetH]).padding(0.6);
        return (
          <g key={f}>
            <defs>
              <clipPath id={"fClip" + f}><rect x={left} y={ft} width={right - left} height={facetH} /></clipPath>
            </defs>
            <g clipPath={`url(#fClip${f})`}>
              {goTerms.map((t, i) => goOntology[i] === f ? (
                <circle key={t} cx={x(goGeneRatio[i])} cy={y(t) as number} r={r(goCounts[i])} fill={col(goPadj[i])} />
              ) : null)}
            </g>
            <rect x={left} y={ft} width={right - left} height={facetH} fill="none" stroke="#1A1A1A" strokeWidth={1} />
            <rect x={right} y={ft} width={stripR - right} height={facetH} fill="#D9D9D9" stroke="#333" strokeWidth={0.8} />
            <text transform={`translate(${(right + stripR) / 2},${ft + facetH / 2}) rotate(90)`} textAnchor="middle" dy="0.35em" fontSize={7} fontFamily={SANS} fill="#1A1A1A">{f}</text>
            {terms.map((t) => (
              <g key={t}>
                <line x1={left - 2.8} x2={left} y1={y(t) as number} y2={y(t) as number} stroke="#333" strokeWidth={0.7} />
                <TermLabel x={left - 4.5} y={y(t) as number} term={t} />
              </g>
            ))}
          </g>
        );
      })}
      {goRatioTicks.map((t) => (
        <g key={t}>
          <line x1={x(t)} x2={x(t)} y1={bottom} y2={bottom + 2.8} stroke="#333" strokeWidth={0.7} />
          <text x={x(t)} y={796} textAnchor="middle" fontSize={6.2} fontFamily={SANS} fill="#4D4D4D">{t}</text>
        </g>
      ))}
      <text x={586.7} y={806} textAnchor="middle" fontSize={9} fontFamily={SANS}>GeneRatio</text>
      <text x={637.5} y={620.5} fontSize={9} fontFamily={SANS}>P adj</text>
      <GradientBar id="goGrad" x={637.7} y={624} w={8.3} h={42} colorFn={col} domain={pDomain} ticks={goPadjTicks} labels={goPadjLabels.map(mfmt)} />
      <text x={637.5} y={680} fontSize={9} fontFamily={SANS}>Counts</text>
      {goCountTicks.map((c, i) => (
        <g key={c}>
          <circle cx={642.3} cy={countY[i]} r={r(c)} fill="#C8C8C8" stroke="#222" strokeWidth={0.7} />
          <text x={647.5} y={countY[i]} dy="0.35em" fontSize={6.8} fontFamily={SERIF} fill="#333">{c}</text>
        </g>
      ))}
    </g>
  );
}

export default function App() {
  return (
    <svg width={669} height={807} viewBox="0 0 669 807" style={{ position: "absolute", left: 0, top: 0, background: "#fff" }}>
      <rect x={0} y={0} width={669} height={807} fill="#fff" />
      <PanelA />
      <PanelB />
      <PanelC />
      <PanelD />
      <PanelE />
      <PanelF />
    </svg>
  );
}
